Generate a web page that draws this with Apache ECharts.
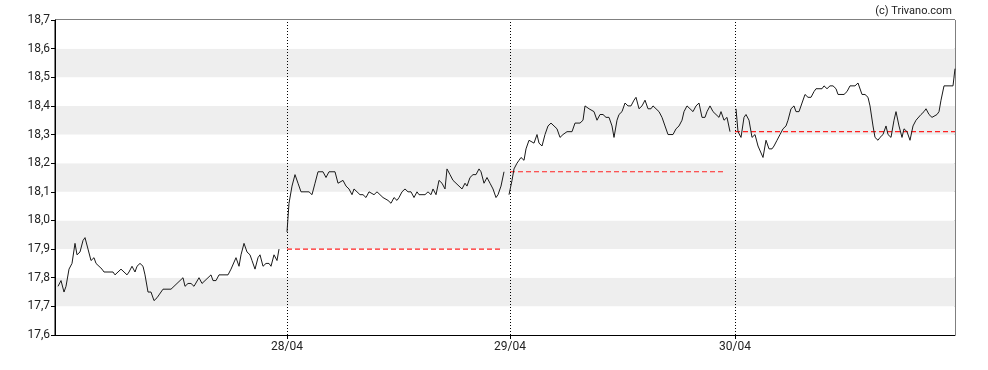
<!DOCTYPE html>
<html>
<head>
<meta charset="utf-8">
<script src="https://cdn.jsdelivr.net/npm/echarts@6/dist/echarts.min.js"></script>
<style>html,body{margin:0;padding:0;background:#fff}#c{width:988px;height:370px}</style>
</head>
<body>
<div id="c"></div>
<script>
// x = intraday time position (axis units), y = price
const day1 = [[3,17.77],[6,17.79],[9,17.75],[11,17.77],[14,17.83],[17,17.85],[20,17.92],[22,17.88],[25,17.89],[28,17.93],[30,17.94],[33,17.90],[36,17.86],[39,17.87],[41,17.85],[44,17.84],[47,17.83],[49,17.82],[55,17.82],[58,17.82],[60,17.81],[66,17.83],[72,17.81],[74,17.82],[77,17.84],[80,17.82],[82,17.84],[85,17.85],[88,17.84],[90,17.81],[93,17.75],[96,17.75],[99,17.72],[102,17.73],[104,17.74],[108,17.76],[116,17.76],[122,17.78],[128,17.80],[130,17.77],[133,17.78],[136,17.78],[139,17.77],[141,17.77],[144,17.80],[147,17.78],[156,17.81],[158,17.79],[161,17.79],[164,17.81],[173,17.81],[176,17.83],[181,17.87],[184,17.84],[186,17.88],[189,17.92],[192,17.89],[195,17.88],[197,17.86],[200,17.83],[203,17.87],[205,17.88],[208,17.84],[211,17.85],[214,17.85],[216,17.84],[219,17.88],[222,17.86],[224,17.90]];
const day2 = [[232,17.96],[234,18.06],[237,18.12],[240,18.16],[243,18.13],[246,18.10],[254,18.10],[257,18.09],[260,18.13],[263,18.17],[268,18.17],[271,18.15],[274,18.17],[280,18.17],[283,18.13],[285,18.13],[288,18.14],[291,18.12],[294,18.11],[297,18.09],[299,18.11],[302,18.10],[305,18.09],[308,18.09],[311,18.08],[314,18.10],[316,18.10],[319,18.09],[322,18.10],[325,18.09],[328,18.08],[330,18.08],[333,18.07],[336,18.06],[339,18.08],[342,18.07],[344,18.08],[347,18.10],[350,18.11],[353,18.10],[356,18.10],[359,18.08],[362,18.10],[364,18.09],[370,18.09],[373,18.10],[376,18.09],[378,18.11],[381,18.09],[384,18.14],[387,18.13],[390,18.11],[392,18.18],[395,18.16],[398,18.14],[401,18.13],[404,18.12],[407,18.11],[410,18.13],[412,18.12],[415,18.15],[418,18.16],[421,18.16],[424,18.18],[426,18.17],[429,18.13],[432,18.15],[435,18.13],[438,18.11],[441,18.08],[443,18.09],[446,18.12],[449,18.17]];
const day3 = [[454,18.09],[457,18.14],[459,18.18],[462,18.20],[464,18.21],[466,18.22],[469,18.21],[471,18.25],[474,18.28],[476,18.28],[479,18.27],[482,18.30],[484,18.27],[487,18.26],[490,18.30],[493,18.33],[496,18.34],[499,18.33],[502,18.32],[505,18.29],[508,18.30],[512,18.31],[517,18.31],[520,18.34],[525,18.34],[528,18.35],[530,18.40],[534,18.39],[536,18.39],[539,18.38],[542,18.35],[545,18.37],[548,18.37],[551,18.36],[554,18.36],[557,18.33],[559,18.29],[562,18.35],[564,18.37],[567,18.38],[570,18.41],[573,18.40],[576,18.40],[579,18.42],[581,18.43],[584,18.39],[587,18.40],[590,18.42],[593,18.39],[596,18.39],[598,18.40],[601,18.39],[604,18.38],[607,18.36],[610,18.33],[613,18.30],[618,18.30],[621,18.32],[624,18.33],[627,18.35],[629,18.38],[632,18.40],[635,18.39],[638,18.38],[641,18.40],[644,18.41],[647,18.36],[650,18.36],[652,18.38],[655,18.40],[658,18.38],[661,18.37],[664,18.36],[666,18.38],[669,18.35],[672,18.36],[675,18.31]];
const day4 = [[681,18.39],[683,18.31],[686,18.29],[689,18.36],[691,18.37],[694,18.35],[697,18.29],[700,18.30],[703,18.26],[705,18.26],[708,18.22],[711,18.28],[714,18.25],[717,18.25],[719,18.26],[722,18.28],[725,18.30],[728,18.32],[731,18.33],[733,18.35],[736,18.39],[739,18.40],[741,18.38],[744,18.38],[747,18.41],[750,18.44],[753,18.43],[756,18.43],[759,18.45],[761,18.46],[767,18.46],[769,18.47],[772,18.46],[775,18.47],[778,18.47],[781,18.46],[783,18.44],[786,18.44],[789,18.44],[792,18.45],[795,18.47],[797,18.47],[800,18.47],[803,18.48],[805,18.48],[807,18.44],[810,18.44],[813,18.43],[815,18.40],[818,18.33],[820,18.29],[823,18.28],[825,18.29],[828,18.30],[831,18.33],[833,18.30],[836,18.29],[839,18.35],[841,18.38],[844,18.33],[847,18.29],[849,18.32],[852,18.31],[855,18.28],[858,18.33],[861,18.35],[863,18.35],[866,18.37],[869,18.38],[871,18.39],[874,18.37],[877,18.36],[879,18.36],[882,18.37],[884,18.38],[886,18.42],[889,18.47],[894,18.47],[898,18.47],[900,18.53]];

// day boundaries (tick positions) and labels
const dayTicks = [232, 455, 680];
const dayLabels = ['28/04', '29/04', '30/04'];
// previous close reference lines: [startX, endX, value]
const prevClose = [[232, 447, 17.90], [455, 670, 18.17], [680, 900, 18.31]];

const xMin = 0, xMax = 900;
const yMin = 17.6, yMax = 18.7, yStep = 0.1;

const chart = echarts.init(document.getElementById('c'), null, {renderer: 'canvas'});

const lineSeries = [day1, day2, day3, day4].map(d => ({
  type: 'line', data: d, symbol: 'none', silent: true,
  lineStyle: {color: '#1a1a1a', width: 1}, z: 5
}));

const refSeries = prevClose.map(p => ({
  type: 'line', data: [[p[0], p[2]], [p[1], p[2]]], symbol: 'none', silent: true,
  lineStyle: {color: '#ff2222', width: 1.2, type: [5, 3]}, z: 4
}));

const vlineSeries = {
  type: 'line', data: [], silent: true,
  markLine: {
    symbol: 'none', silent: true, label: {show: false},
    lineStyle: {color: '#000', width: 1, type: [1, 2]},
    data: dayTicks.map(v => ({xAxis: v}))
  }
};

chart.setOption({
  animation: false,
  title: {
    text: '(c) Trivano.com', right: 31, top: 1,
    textStyle: {fontFamily: 'Roboto', fontSize: 11, fontWeight: 'normal', color: '#222'}
  },
  grid: {left: 55, right: 33, top: 20, bottom: 35, show: true, borderColor: '#000', borderWidth: 1, backgroundColor: '#fff', containLabel: false},
  xAxis: {
    type: 'value', min: xMin, max: xMax,
    axisLine: {show: true, lineStyle: {color: '#000'}},
    axisTick: {show: true, customValues: dayTicks, length: 4, lineStyle: {color: '#000'}},
    axisLabel: {
      customValues: dayTicks,
      formatter: v => dayLabels[dayTicks.indexOf(v)] || '',
      fontFamily: 'Roboto', fontSize: 12, color: '#222', margin: 6
    },
    splitLine: {show: false}
  },
  yAxis: {
    type: 'value', min: yMin, max: yMax, interval: yStep,
    axisLine: {show: true, lineStyle: {color: '#000'}},
    axisTick: {show: true, length: 4, lineStyle: {color: '#000'}},
    axisLabel: {
      formatter: v => v.toFixed(1).replace('.', ','),
      fontFamily: 'Roboto', fontSize: 12, color: '#222', margin: 5
    },
    splitLine: {show: false},
    splitArea: {show: true, areaStyle: {color: ['#ffffff', '#eeeeee']}}
  },
  series: [...lineSeries, ...refSeries, vlineSeries]
});
</script>
</body>
</html>
